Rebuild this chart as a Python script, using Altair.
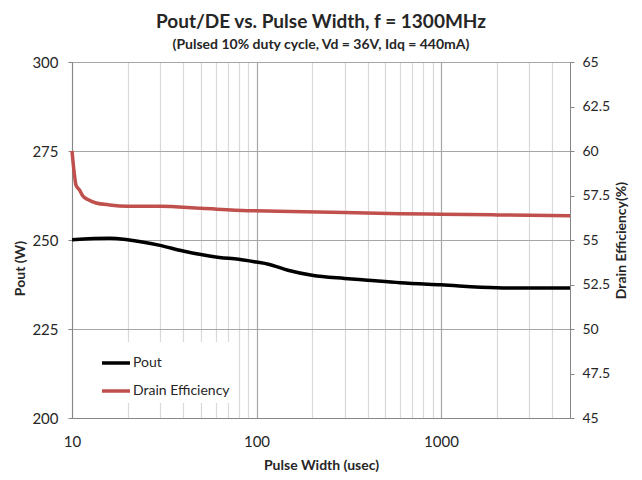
import altair as alt
import pandas as pd

# Data
pout_x = [10, 16, 20, 30, 40, 50, 63, 80, 100, 116, 148, 200, 300, 400, 600, 1000, 2000, 3000, 5000]
pout_y = [250.1, 250.5, 250.1, 248.5, 246.9, 245.9, 245.1, 244.6, 243.8, 243.2, 241.5, 240.1,
          239.2, 238.7, 238.0, 237.4, 236.6, 236.5, 236.5]

de_x = [10, 10.3, 10.5, 11, 11.4, 12.2, 13.5, 16, 20, 30, 50, 90, 130, 300, 600, 1000, 2000, 5000]
de_y = [60.0, 58.7, 58.1, 57.8, 57.5, 57.27, 57.08, 56.97, 56.9, 56.89, 56.78, 56.65, 56.62,
        56.55, 56.48, 56.45, 56.41, 56.36]

series_names = ["Pout", "Drain Efficiency"]
series_colors = ["#000000", "#c0504d"]

x_ticks = [10, 20, 30, 40, 50, 60, 70, 80, 90, 100, 200, 300, 400, 500, 600, 700, 800, 900,
           1000, 2000, 3000, 4000]
left_ticks = list(range(200, 301, 5))
right_ticks = [45 + 0.5 * i for i in range(41)]

pout_df = pd.DataFrame({"pw": pout_x, "val": pout_y, "series": "Pout"})
de_df = pd.DataFrame({"pw": de_x, "val": de_y, "series": "Drain Efficiency"})

FONT = "Lato"
GRID_MAJOR = "#a6a6a6"
GRID_MINOR = "#d9d9d9"
AXIS_COL = "#868686"

color = alt.Color(
    "series:N",
    scale=alt.Scale(domain=series_names, range=series_colors),
    sort=series_names,
    legend=alt.Legend(
        title=None, orient="none", legendX=23, legendY=280,
        symbolType="stroke", symbolSize=784, symbolStrokeWidth=3.5,
        labelFont=FONT, labelFontSize=14, labelColor="#262626", labelOffset=1,
        rowPadding=5, fillColor="white", padding=5,
    ),
)

xenc = alt.X(
    "pw:Q",
    scale=alt.Scale(type="log", domain=[10, 5000], nice=False),
    axis=alt.Axis(
        values=x_ticks,
        labelExpr="indexof([10,100,1000], datum.value) >= 0 ? '' + datum.value : ''",
        ticks=False, labelPadding=16, labelFont=FONT, labelFontSize=15, labelColor="#262626",
        title="Pulse Width (usec)", titleFont=FONT, titleFontSize=14, titleFontWeight="bold",
        titleColor="#262626", titleY=47, titleBaseline="middle",
        gridColor={"condition": {"test": "indexof([10,100,1000], datum.value) >= 0", "value": GRID_MAJOR},
                   "value": GRID_MINOR},
        gridWidth=1.2, domainColor=AXIS_COL, labelFlush=False,
    ),
)

pout_line = alt.Chart(pout_df).mark_line(strokeWidth=3.5, interpolate="monotone").encode(
    x=xenc,
    y=alt.Y(
        "val:Q",
        scale=alt.Scale(domain=[200, 300], nice=False, zero=False),
        axis=alt.Axis(
            values=left_ticks, orient="left",
            labelExpr="datum.value % 25 == 0 ? '' + datum.value : ''",
            tickColor=AXIS_COL,
            tickSize={"condition": {"test": "datum.value % 25 == 0", "value": 4}, "value": 0},
            labelPadding=10, labelFont=FONT, labelFontSize=15, labelColor="#262626",
            title="Pout (W)", titleFont=FONT, titleFontSize=14, titleFontWeight="bold",
            titleColor="#262626", titleAngle=270, titleX=-52, titleY=206,
            titleAlign="center", titleBaseline="middle",
            gridColor=GRID_MAJOR, gridWidth=1.2,
            gridOpacity={"condition": {"test": "datum.value % 25 == 0", "value": 1}, "value": 0},
            domainColor=AXIS_COL,
        ),
    ),
    color=color,
)

de_line = alt.Chart(de_df).mark_line(strokeWidth=3.5, interpolate="monotone").encode(
    x=alt.X("pw:Q", scale=alt.Scale(type="log", domain=[10, 5000], nice=False)),
    y=alt.Y(
        "val:Q",
        scale=alt.Scale(domain=[45, 65], nice=False, zero=False),
        axis=alt.Axis(
            values=right_ticks, orient="right", grid=False,
            labelExpr="datum.value % 2.5 == 0 ? '' + datum.value : ''",
            tickColor=AXIS_COL,
            tickSize={"condition": {"test": "datum.value % 2.5 == 0", "value": 4}, "value": 0},
            labelPadding=8, labelFont=FONT, labelFontSize=14, labelColor="#262626",
            title="Drain Efficiency(%)", titleFont=FONT, titleFontSize=14, titleFontWeight="bold",
            titleColor="#262626", titleAngle=270, titleX=51, titleY=178,
            titleAlign="center", titleBaseline="middle",
            domainColor=AXIS_COL,
        ),
    ),
    color=color,
)

chart = (
    alt.layer(pout_line, de_line)
    .resolve_scale(y="independent")
    .properties(
        width=498, height=356,
        autosize=alt.AutoSizeParams(type="none"),
        padding={"left": 64, "top": 54, "right": 60, "bottom": 54},
        title=alt.TitleParams(
            text="Pout/DE vs. Pulse Width, f = 1300MHz",
            subtitle="(Pulsed 10% duty cycle, Vd = 36V, Idq = 440mA)",
            font=FONT, fontSize=19, fontWeight="bold", color="#262626",
            subtitleFont=FONT, subtitleFontSize=14, subtitleFontWeight="bold",
            subtitleColor="#262626", subtitlePadding=6, anchor="middle", offset=3,
        ),
    )
    .configure_view(stroke=None)
    .configure(background="white")
)

chart.save("out.html", embed_options={"renderer": "svg", "actions": False})
